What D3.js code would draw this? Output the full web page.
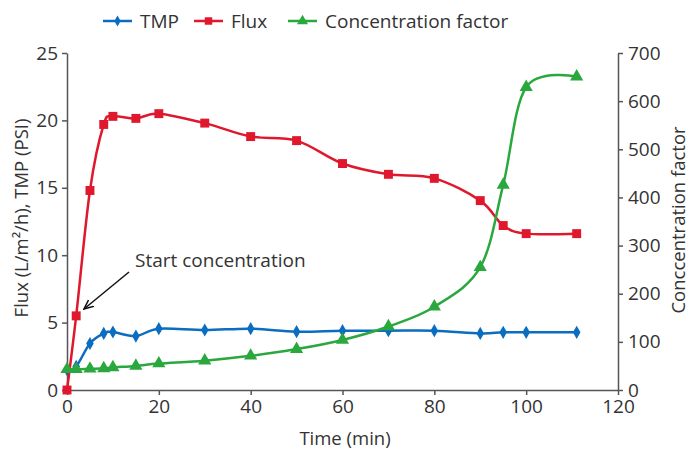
<!DOCTYPE html>
<html>
<head>
<meta charset="utf-8">
<script src="https://cdn.jsdelivr.net/npm/d3@7"></script>
<style>
body { margin: 0; background: #fff; }
text { font-family: "Open Sans", Lato, sans-serif; fill: #333; }
</style>
</head>
<body>
<script>
// chart size
var W = 689, H = 449;
var margin = {left: 67, right: 71, top: 53, bottom: 59};
var font = "'Open Sans', Lato, sans-serif";

// data
var time = [0, 2, 5, 8, 10, 15, 20, 30, 40, 50, 60, 70, 80, 90, 95, 100, 111];
var tmp = [1.5, 1.75, 3.45, 4.2, 4.3, 4.0, 4.55, 4.45, 4.55, 4.33, 4.4, 4.4, 4.4, 4.2, 4.28, 4.28, 4.28];
var flux = [0, 5.5, 14.8, 19.7, 20.3, 20.15, 20.5, 19.8, 18.8, 18.5, 16.8, 16.0, 15.7, 14.05, 12.2, 11.6, 11.6];
var concFactor = [43, 43, 44, 45, 47, 50, 55, 61, 71, 85, 104, 132, 173, 255, 426, 629, 651];

var xTicks = [0, 20, 40, 60, 80, 100, 120];
var yLeftTicks = [0, 5, 10, 15, 20, 25];
var yRightTicks = [0, 100, 200, 300, 400, 500, 600, 700];

var svg = d3.select("body").append("svg")
	.attr("width", W)
	.attr("height", H);

var x = d3.scaleLinear().domain([0, 120]).range([margin.left, W - margin.right]);
var yL = d3.scaleLinear().domain([0, 25]).range([H - margin.bottom, margin.top]);
var yR = d3.scaleLinear().domain([0, 700]).range([H - margin.bottom, margin.top]);

var axisColor = "#555";

function styleAxis(g) {
	g.selectAll("path").attr("stroke", axisColor).attr("stroke-width", 1.5);
	g.selectAll("line").attr("stroke", axisColor).attr("stroke-width", 1.5);
	g.selectAll("text").attr("font-size", 19).attr("fill", "#333").style("font-family", font);
}

svg.append("g")
	.attr("transform", "translate(0," + (H - margin.bottom) + ")")
	.call(d3.axisBottom(x).tickValues(xTicks).tickSize(5).tickSizeOuter(0).tickPadding(5))
	.call(styleAxis);

svg.append("g")
	.attr("transform", "translate(" + margin.left + ",0)")
	.call(d3.axisLeft(yL).tickValues(yLeftTicks).tickSize(5).tickSizeOuter(0).tickPadding(4))
	.call(styleAxis);

svg.append("g")
	.attr("transform", "translate(" + (W - margin.right) + ",0)")
	.call(d3.axisRight(yR).tickValues(yRightTicks).tickSize(5).tickSizeOuter(0).tickPadding(5))
	.call(styleAxis);

// axis titles
svg.append("text")
	.attr("x", 345)
	.attr("y", 445)
	.attr("text-anchor", "middle")
	.attr("font-size", 18.5)
	.text("Time (min)");

svg.append("text")
	.attr("transform", "translate(28,218) rotate(-90)")
	.attr("text-anchor", "middle")
	.attr("font-size", 18.5)
	.text("Flux (L/m²/h), TMP (PSI)");

svg.append("text")
	.attr("transform", "translate(685,220) rotate(-90)")
	.attr("text-anchor", "middle")
	.attr("font-size", 18.5)
	.text("Conccentration factor");

// series
var series = [
	{name: "TMP", values: tmp, y: yL, color: "#0b6dbf", symbol: d3.symbolDiamond, size: 50},
	{name: "Flux", values: flux, y: yL, color: "#e0182d", symbol: d3.symbolSquare, size: 80},
	{name: "Concentration factor", values: concFactor, y: yR, color: "#2aa83e", symbol: d3.symbolTriangle, size: 75}
];

series.forEach(function(s) {
	var pts = time.map(function(t, i) { return [x(t), s.y(s.values[i])]; });
	var line = d3.line().curve(d3.curveCatmullRom.alpha(0));
	svg.append("path")
		.attr("d", line(pts))
		.attr("fill", "none")
		.attr("stroke", s.color)
		.attr("stroke-width", 2.5);
	svg.append("g").selectAll("path")
		.data(pts)
		.enter().append("path")
		.attr("transform", function(d) { return "translate(" + d[0] + "," + d[1] + ")"; })
		.attr("d", d3.symbol().type(s.symbol).size(s.size))
		.attr("fill", s.color);
});

// legend
var legendX = [103, 194, 288];
series.forEach(function(s, i) {
	var g = svg.append("g").attr("transform", "translate(" + legendX[i] + ",21)");
	g.append("line").attr("x1", 0).attr("x2", 29).attr("stroke", s.color).attr("stroke-width", 2.5);
	g.append("path").attr("transform", "translate(14.5,0)")
		.attr("d", d3.symbol().type(s.symbol).size(s.size * 0.7))
		.attr("fill", s.color);
	g.append("text").attr("x", 37).attr("y", 7).attr("font-size", 19).text(s.name);
});

// annotation
svg.append("defs").append("marker")
	.attr("id", "arrow")
	.attr("viewBox", "0 0 10 10")
	.attr("refX", 9).attr("refY", 5)
	.attr("markerWidth", 7).attr("markerHeight", 7)
	.attr("orient", "auto")
	.append("path")
	.attr("d", "M0,1 L9,5 L0,9")
	.attr("fill", "none")
	.attr("stroke", "#111")
	.attr("stroke-width", 1.5);

svg.append("line")
	.attr("x1", 129).attr("y1", 272)
	.attr("x2", 84).attr("y2", 309)
	.attr("stroke", "#111")
	.attr("stroke-width", 1.5)
	.attr("marker-end", "url(#arrow)");

svg.append("text")
	.attr("x", 135)
	.attr("y", 267)
	.attr("font-size", 19)
	.text("Start concentration");
</script>
</body>
</html>
